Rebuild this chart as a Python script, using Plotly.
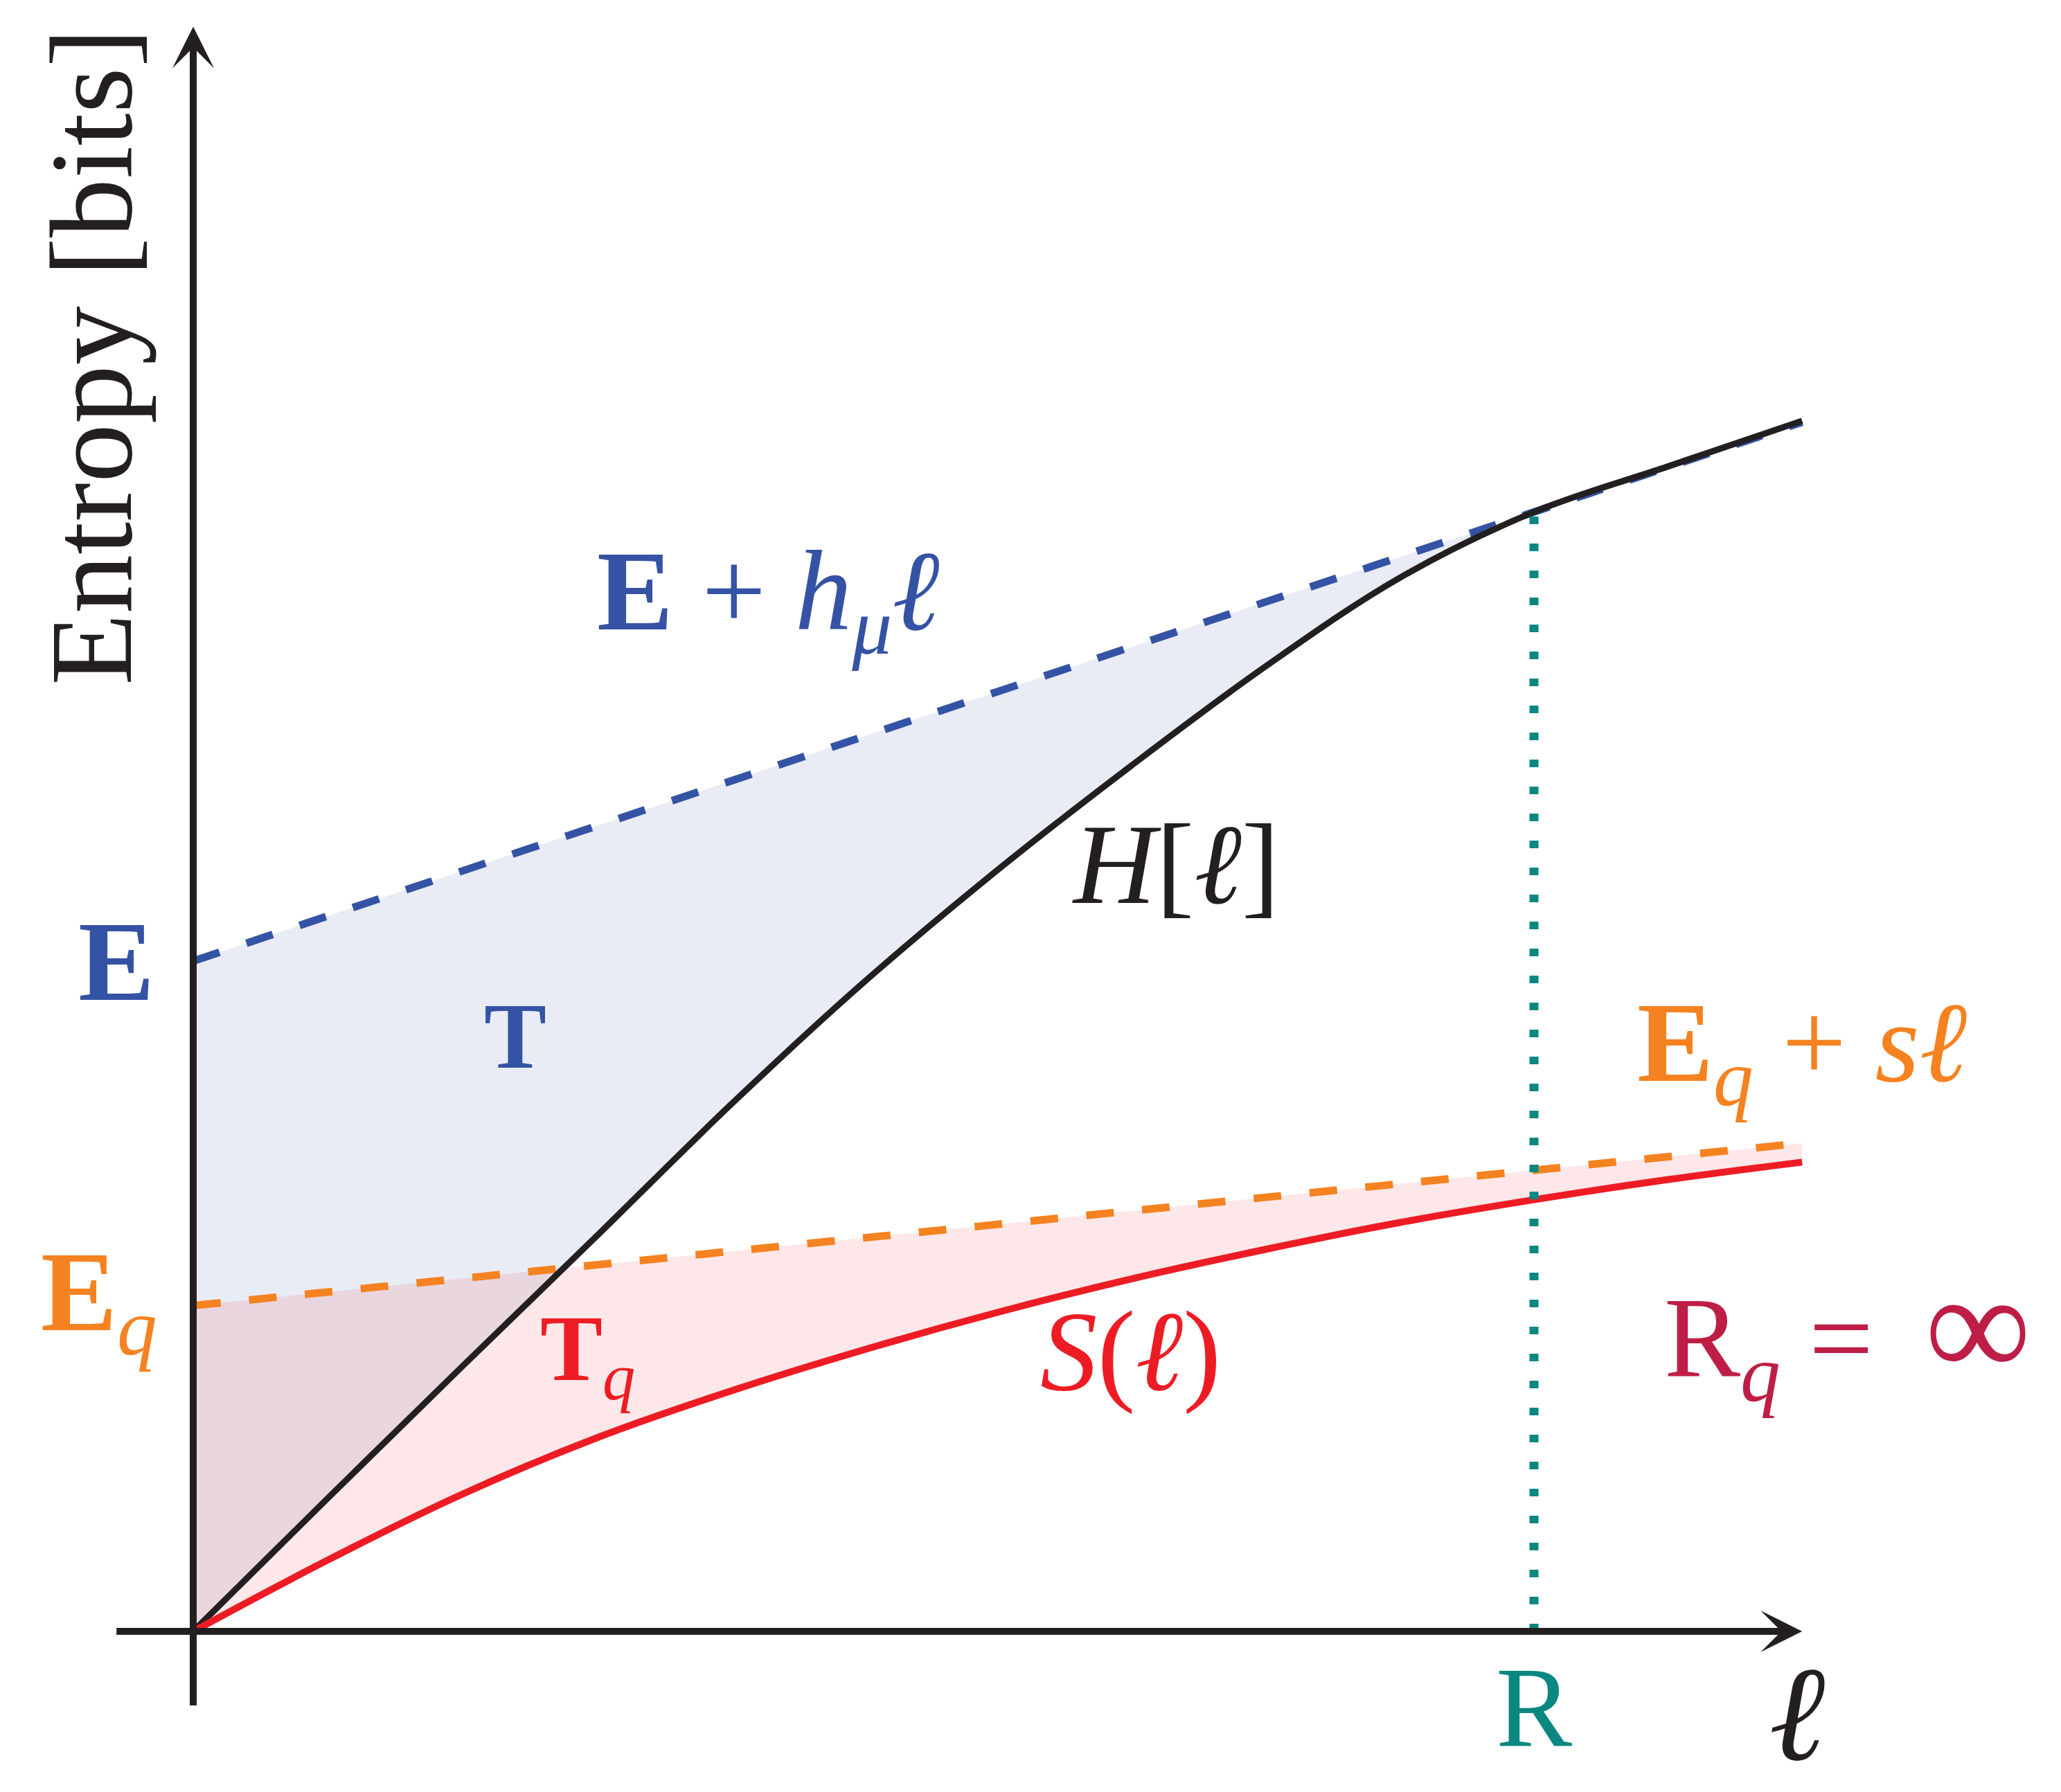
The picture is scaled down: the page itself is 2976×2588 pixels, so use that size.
import plotly.graph_objects as go

# block length ell (R = 10 units)
ell = [0, 1, 2, 3, 4, 5, 6, 7, 8, 9, 10, 11, 12]
H_ell = [0, 0.99, 1.97, 2.94, 3.92, 4.84, 5.68, 6.46, 7.20, 7.86, 8.35, 8.69, 9.03]   # block entropy H[l]
S_ell = [0, 0.53, 1.02, 1.44, 1.79, 2.10, 2.38, 2.63, 2.85, 3.05, 3.22, 3.37, 3.50]   # S(l)

E = 5.0        # excess entropy
h_mu = 0.335   # entropy rate
E_q = 2.43
s = 0.101
R = 10         # Markov order

asym_x = [0, 12]
asym_E = [E, E + h_mu * 12]
asym_Eq = [E_q, E_q + s * 12]

BLUE = "#3553A5"
ORANGE = "#F58220"
RED = "#ED1C24"
TEAL = "#0A8780"
CRIMSON = "#BE1E45"
INK = "#231F20"
FONT = "Liberation Serif"

fig = go.Figure()

# blue region T between E + h_mu l and H[l]
fig.add_trace(go.Scatter(x=ell, y=H_ell, mode="lines", line=dict(width=0, shape="spline"), hoverinfo="skip"))
fig.add_trace(go.Scatter(x=asym_x, y=asym_E, mode="lines", fill="tonexty", fillcolor="rgba(53,83,165,0.11)",
                         line=dict(color=BLUE, width=11, dash="40px,41px")))
# pink region T_q between E_q + s l and S(l)
fig.add_trace(go.Scatter(x=ell, y=S_ell, mode="lines", line=dict(width=0, shape="spline"), hoverinfo="skip"))
fig.add_trace(go.Scatter(x=asym_x, y=asym_Eq, mode="lines", fill="tonexty", fillcolor="rgba(237,28,36,0.105)",
                         line=dict(color=ORANGE, width=11, dash="40px,41px")))

fig.add_trace(go.Scatter(x=ell, y=H_ell, mode="lines", line=dict(color=INK, width=9, shape="spline")))
fig.add_trace(go.Scatter(x=ell, y=S_ell, mode="lines", line=dict(color=RED, width=10, shape="spline")))
fig.add_trace(go.Scatter(x=[R, R], y=[0, H_ell[ell.index(R)]], mode="lines",
                         line=dict(color=TEAL, width=13, dash="11px,28px")))

# axes with arrow heads
fig.add_annotation(x=12.0, y=0, ax=-0.58, ay=0, xref="x", yref="y", axref="x", ayref="y", text="",
                   showarrow=True, arrowhead=3, arrowsize=1, arrowwidth=10, arrowcolor=INK, standoff=0)
fig.add_annotation(x=0, y=11.97, ax=0, ay=-0.56, xref="x", yref="y", axref="x", ayref="y", text="",
                   showarrow=True, arrowhead=3, arrowsize=1, arrowwidth=10, arrowcolor=INK, standoff=0)

inf = '<span style="font-size:215px">∞</span>'
labels = [
    # text, x, y, xanchor, yanchor, size, color
    ("<b>E</b> + <i>h</i><sub><i>μ</i></sub><i>ℓ</i>", 4.29, 7.70, "center", "middle", 165, BLUE),
    ("<b>E</b>", -0.28, 5.0, "right", "middle", 165, BLUE),
    ("<b>T</b>", 2.40, 4.44, "center", "middle", 135, BLUE),
    ("<i>H</i>[<i>ℓ</i>]", 7.33, 5.72, "center", "middle", 165, INK),
    ("<b>E</b><sub><i>q</i></sub> + <i>s</i><i>ℓ</i>", 12.0, 4.33, "center", "middle", 165, ORANGE),
    ("<b>E</b><sub><i>q</i></sub>", -0.26, 2.47, "right", "middle", 165, ORANGE),
    ("<b>T</b><sub><i>q</i></sub>", 2.58, 2.06, "left", "middle", 135, RED),
    ("<i>S</i>(<i>ℓ</i>)", 6.99, 2.09, "center", "middle", 165, RED),
    ("R<sub><i>q</i></sub> = \u2009" + inf, 10.96, 2.24, "left", "middle", 165, CRIMSON),
    ("R", 10.0, -0.57, "center", "middle", 165, TEAL),
    ("<i>ℓ</i>", 11.96, -1.185, "center", "bottom", 195, INK),
]
for text, x, y, xa, ya, size, color in labels:
    fig.add_annotation(x=x, y=y, xref="x", yref="y", text=text, showarrow=False, xanchor=xa, yanchor=ya,
                       font=dict(family=FONT, size=size, color=color))

fig.add_annotation(x=-0.76, y=9.51, xref="x", yref="y", text="Entropy [bits]", showarrow=False, textangle=-90,
                   font=dict(family=FONT, size=170, color=INK))

fig.update_xaxes(range=[-279 / 193.6, (2976 - 279) / 193.6], visible=False)
fig.update_yaxes(range=[-(2588 - 2356) / 193.6, 2356 / 193.6], visible=False)
fig.update_layout(width=2976, height=2588, autosize=False, showlegend=False,
                  margin=dict(l=0, r=0, t=0, b=0, pad=0),
                  plot_bgcolor="white", paper_bgcolor="white")

fig.write_html("out.html", config={"displayModeBar": False},
               post_script="document.body.style.margin='0';")
